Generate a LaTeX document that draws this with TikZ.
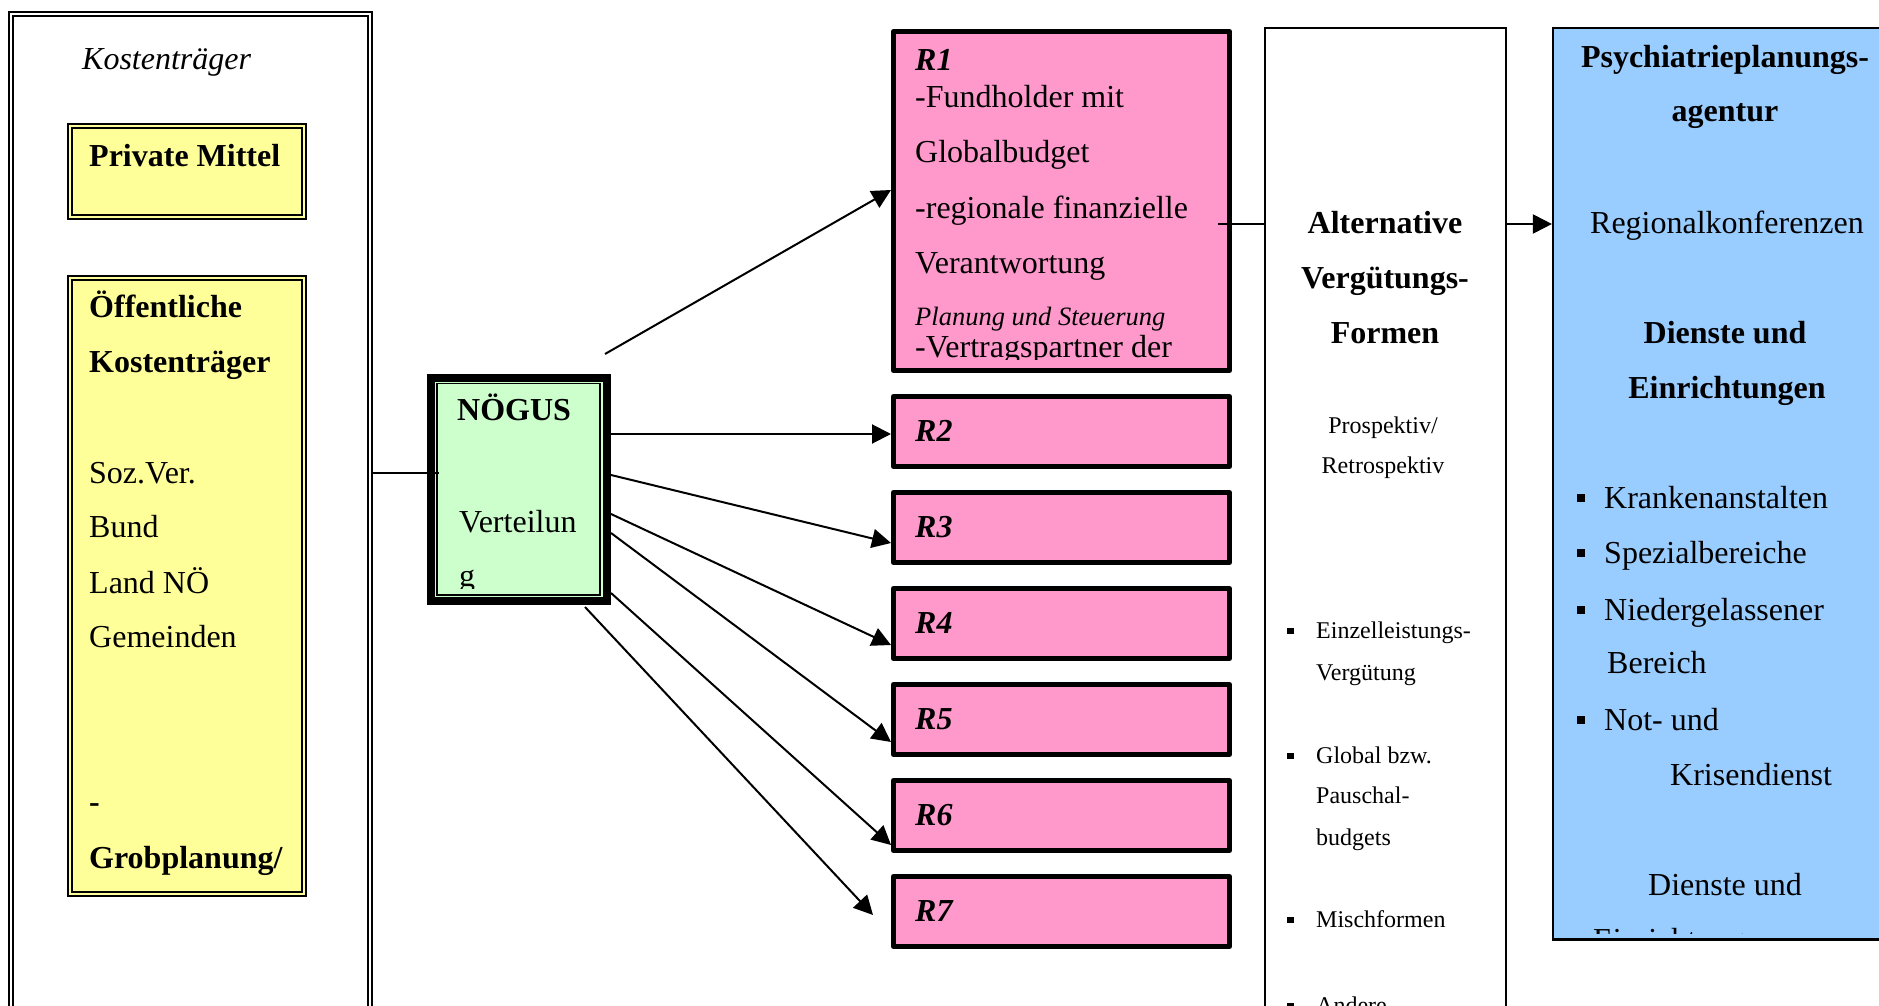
\documentclass[tikz,border=0pt]{standalone}
\usepackage{fontspec}
\setmainfont{Liberation Serif}
\usetikzlibrary{arrows.meta}
\definecolor{kyellow}{HTML}{FFFF99}
\definecolor{kgreen}{HTML}{CCFFCC}
\definecolor{kpink}{HTML}{FF99CC}
\definecolor{kblue}{HTML}{99CCFF}

\begin{document}
\begin{tikzpicture}[x=1pt,y=-1pt,
  box/.style={draw, inner sep=0pt, anchor=north west},
  dbox/.style={box, line width=2.2pt, double distance=1.8pt},
  rbox/.style={box, fill=kpink, line width=5pt, line join=round, minimum width=336pt, minimum height=70pt},
  plain/.style={box, line width=2.2pt},
  tx/.style={anchor=base west, inner sep=0pt, font=\fontsize{32}{38}\selectfont},
  txb/.style={tx, font=\fontsize{32}{38}\selectfont\bfseries},
  txi/.style={tx, font=\fontsize{32}{38}\selectfont\itshape},
  txbi/.style={tx, font=\fontsize{32}{38}\selectfont\bfseries\itshape},
  sm/.style={anchor=base west, inner sep=0pt, font=\fontsize{24}{29}\selectfont},
  smi/.style={anchor=base west, inner sep=0pt, font=\fontsize{26.5}{31}\selectfont\itshape},
  ctr/.style={anchor=base},
  bul/.style={fill, inner sep=0pt, minimum size=#1},
  conn/.style={line width=2pt},
  arr/.style={conn, -{Triangle[length=19pt,width=19pt]}},
]
\useasboundingbox (0,0) rectangle (1879,1006);
\clip (0,0) rectangle (1879,1006);
\fill[white] (0,0) rectangle (1879,1006);

% ---- cost bearers column ----
\node[dbox, double=white, minimum width=358.7pt, minimum height=1030pt] (kt) at (10.2,13.2) {};
\node[txi] (kttitle) at (82,70) {Kostenträger};

\node[dbox, fill=kyellow, double=kyellow, minimum width=233.8pt, minimum height=90.8pt] (pm) at (69,125) {};
\begin{scope}
  \clip (73,129) rectangle (301,214);
  \node[txb] (pmtext) at (89,167) {Private Mittel};
\end{scope}

\node[dbox, fill=kyellow, double=kyellow, minimum width=233.8pt, minimum height=615.8pt] (ok) at (69,277) {};
\begin{scope}
  \clip (73,281) rectangle (301,891);
  \node[txb] (ok1) at (89,317) {Öffentliche};
  \node[txb] (ok2) at (89,372) {Kostenträger};
  \node[tx] (ok3) at (89,483) {Soz.Ver.};
  \node[tx] (ok4) at (89,537) {Bund};
  \node[tx] (ok5) at (89,593) {Land NÖ};
  \node[tx] (ok6) at (89,647) {Gemeinden};
  \node[txb] (ok7) at (89,812) {-};
  \node[txb] (ok8) at (89,868) {Grobplanung/};
\end{scope}

% ---- distribution body ----
\node[box, fill=kgreen, line width=8pt, minimum width=176pt, minimum height=223pt] (nogus) at (427,374) {};
\node[box, line width=1.5pt, minimum width=163pt, minimum height=211.4pt] (nogusin) at (436,382.6) {};
\begin{scope}
  \clip (438,385) rectangle (598,588);
  \node[txb] (ng1) at (457,420) {NÖGUS};
  \node[tx] (ng2) at (459,532) {Verteilun};
  \node[tx] (ng3) at (459,586) {g};
\end{scope}

% ---- regions ----
\node[rbox, minimum height=339pt] (r1) at (891,29) {};
\begin{scope}
  \clip (897,35) rectangle (1226,359);
  \node[txbi] (r1a) at (915,71) {R1};
  \node[tx] (r1b) at (915,108) {-Fundholder mit};
  \node[tx] (r1c) at (915,163) {Globalbudget};
  \node[tx] (r1d) at (915,218) {-regionale finanzielle};
  \node[tx] (r1e) at (915,273) {Verantwortung};
  \node[smi] (r1f) at (915,325) {Planung und Steuerung};
  \node[tx] (r1g) at (915,357) {-Vertragspartner der};
\end{scope}

\foreach \k in {2,...,7} {
  \pgfmathsetmacro{\top}{394+96*(\k-2)}
  \node[rbox] (r\k) at (891,\top) {};
  \node[txbi] (r\k lab) at (915,\top+47) {R\k};
}

% ---- remuneration forms ----
\node[plain, fill=white, minimum width=240.7pt, minimum height=1000pt] (alt) at (1263.9,26.6) {};
\node[txb, ctr] (alt1) at (1385,233) {Alternative};
\node[txb, ctr] (alt2) at (1385,288) {Vergütungs-};
\node[txb, ctr] (alt3) at (1385,343) {Formen};
\node[sm, ctr] (alt4) at (1383,433) {Prospektiv/};
\node[sm, ctr] (alt5) at (1383,473) {Retrospektiv};
\foreach \b/\yy in {ab1/638, ab2/763, ab3/927, ab4/1013}
  \node[bul=6.5pt] (\b) at (1290.7,\yy-7) {};
\node[sm] (alt6) at (1316,638) {Einzelleistungs-};
\node[sm] (alt7) at (1316,680) {Vergütung};
\node[sm] (alt8) at (1316,763) {Global bzw.};
\node[sm] (alt9) at (1316,803) {Pauschal-};
\node[sm] (alt10) at (1316,845) {budgets};
\node[sm] (alt11) at (1316,927) {Mischformen};
\node[sm] (alt12) at (1316,1013) {Andere};

% ---- planning agency ----
\node[plain, fill=kblue, minimum width=344pt, minimum height=911.8pt] (psy) at (1551.9,26.6) {};
\begin{scope}
  \clip (1555,30) rectangle (1896,933);
  \node[txb, ctr] (p1) at (1725,68) {Psychiatrieplanungs-};
  \node[txb, ctr] (p2) at (1725,122) {agentur};
  \node[tx, ctr] (p3) at (1727,233) {Regionalkonferenzen};
  \node[txb, ctr] (p4) at (1725,343) {Dienste und};
  \node[txb, ctr] (p5) at (1727,398) {Einrichtungen};
  \foreach \b/\yy in {pb1/508, pb2/563, pb3/620, pb4/730}
    \node[bul=8pt] (\b) at (1580.7,\yy-10.5) {};
  \node[tx] (p6) at (1604,508) {Krankenanstalten};
  \node[tx] (p7) at (1604,563) {Spezialbereiche};
  \node[tx] (p8) at (1604,620) {Niedergelassener};
  \node[tx] (p9) at (1607,673) {Bereich};
  \node[tx] (p10) at (1604,730) {Not- und};
  \node[tx] (p11) at (1670,785) {Krisendienst};
  \node[tx, ctr] (p12) at (1725,895) {Dienste und};
  \node[tx] (p13) at (1593,950) {Einrichtungen};
\end{scope}

% ---- connectors ----
\coordinate (kin) at (439,473);
\draw[conn] (kt.east |- kin) -- (kin);

\coordinate (s1) at (605,354);
\coordinate (s7) at (585,607);
\coordinate (t7) at (873,915);
\draw[arr] (s1) -- (r1.west |- 0,190);
\draw[arr] (nogus.east |- 0,434) -- (r2.west |- 0,434);
\draw[arr] (nogus.east |- 0,475) -- (r3.west |- 0,543);
\draw[arr] (nogus.east |- 0,514) -- (r4.west |- 0,645);
\draw[arr] (nogus.east |- 0,533) -- (r5.west |- 0,742);
\draw[arr] (nogus.east |- 0,593) -- (r6.west |- 0,845);
\draw[arr] (s7) -- (t7);

\coordinate (r1out) at (1218,224);
\draw[conn] (r1out) -- (alt.west |- r1out);
\draw[arr] (alt.east |- r1out) -- (psy.west |- r1out);

\end{tikzpicture}
\end{document}
